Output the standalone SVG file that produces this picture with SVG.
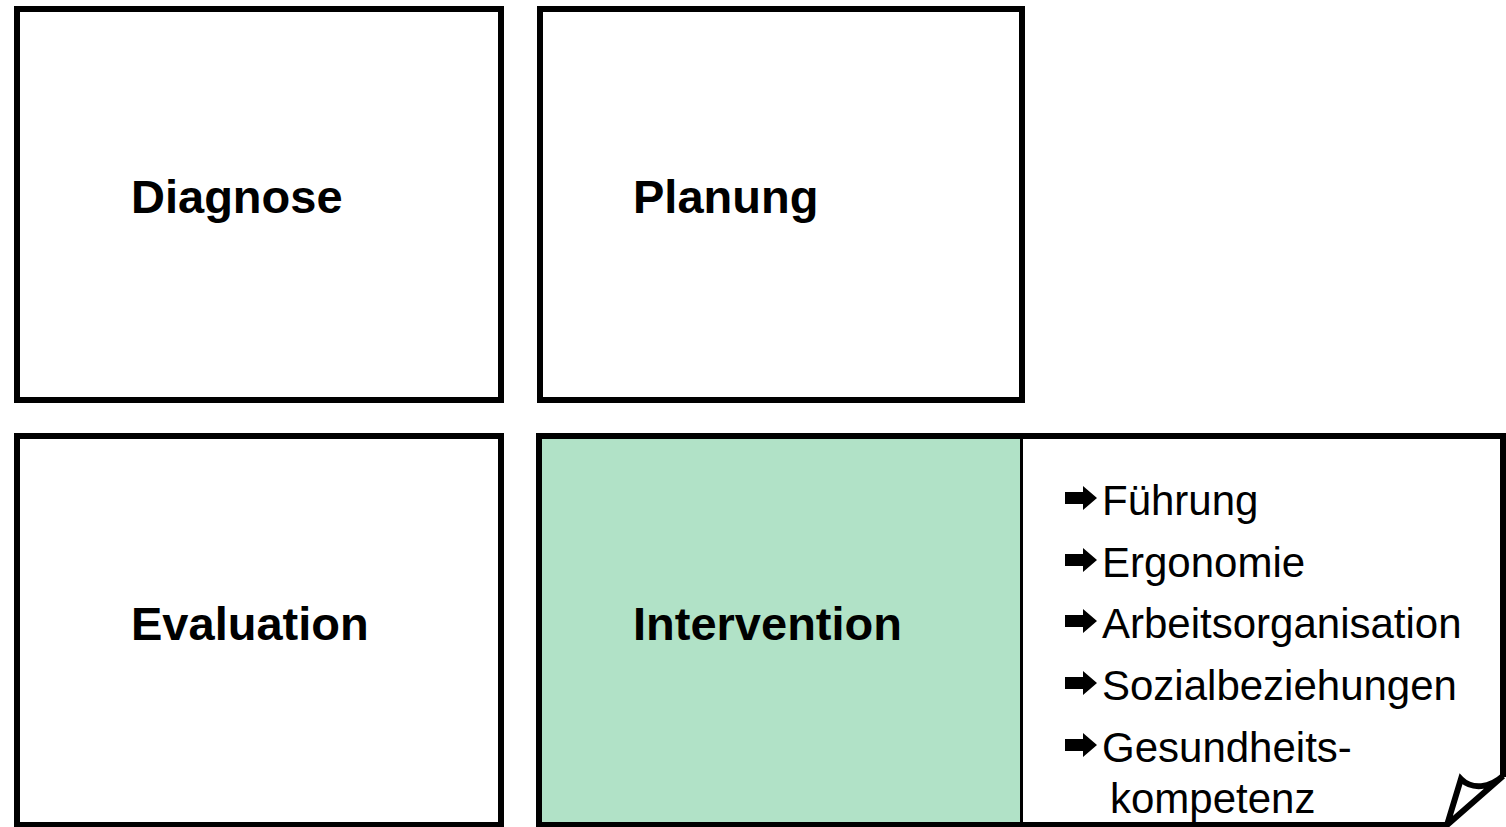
<svg xmlns="http://www.w3.org/2000/svg" xmlns:xlink="http://www.w3.org/1999/xlink" width="1506" height="827" viewBox="0 0 1506 827">
  <style>
    .box { fill: #ffffff; stroke: #000000; stroke-width: 6; }
    .green { fill: #B1E2C7; stroke: #000000; stroke-width: 6; }
    .line { fill: none; stroke: #000000; stroke-width: 6; stroke-linejoin: miter; }
    .title { font-family: "Liberation Sans", Arial, sans-serif; font-weight: bold; font-size: 47px; fill: #000000; }
    .item { font-family: "Liberation Sans", Arial, sans-serif; font-size: 42px; fill: #000000; }
  </style>
  <defs>
    <!-- solid bullet arrow, origin at vertical centre of the shaft -->
    <path id="bullet" d="M0,-6 H18 V-12 L32,0 L18,12 V6 H0 Z" fill="#000000"/>
  </defs>

  <rect width="1506" height="827" fill="#ffffff"/>

  <g id="diagnose">
    <rect class="box" x="17" y="9" width="484" height="391"/>
    <text class="title" x="131" y="213">Diagnose</text>
  </g>

  <g id="planung">
    <rect class="box" x="540" y="9" width="482" height="391"/>
    <text class="title" x="633" y="213">Planung</text>
  </g>

  <g id="evaluation">
    <rect class="box" x="17" y="436" width="484" height="389"/>
    <text class="title" x="131" y="640">Evaluation</text>
  </g>

  <g id="intervention">
    <rect class="green" x="539" y="436" width="484" height="389"/>
    <text class="title" x="633" y="640">Intervention</text>
  </g>

  <g id="massnahmen">
    <!-- sheet with curled lower right corner -->
    <path d="M1023,436 H1503 V777 L1447,825 H1023" fill="#ffffff"/>
    <path class="line" d="M1023,436 H1503 V777"/>
    <path class="line" d="M1023,825 H1447"/>
    <path class="line" d="M1447,825 L1461,779 C1472,790 1490,788 1503,776 L1447,825 Z" fill="#ffffff"/>

    <use xlink:href="#bullet" x="1065" y="498"/>
    <text class="item" x="1102" y="515">Führung</text>
    <use xlink:href="#bullet" x="1065" y="560"/>
    <text class="item" x="1102" y="577">Ergonomie</text>
    <use xlink:href="#bullet" x="1065" y="621"/>
    <text class="item" x="1102" y="638">Arbeitsorganisation</text>
    <use xlink:href="#bullet" x="1065" y="683"/>
    <text class="item" x="1102" y="700">Sozialbeziehungen</text>
    <use xlink:href="#bullet" x="1065" y="745"/>
    <text class="item" x="1102" y="762">Gesundheits-</text>
    <text class="item" x="1110" y="813">kompetenz</text>
  </g>

  <g id="connectors"/>
</svg>
